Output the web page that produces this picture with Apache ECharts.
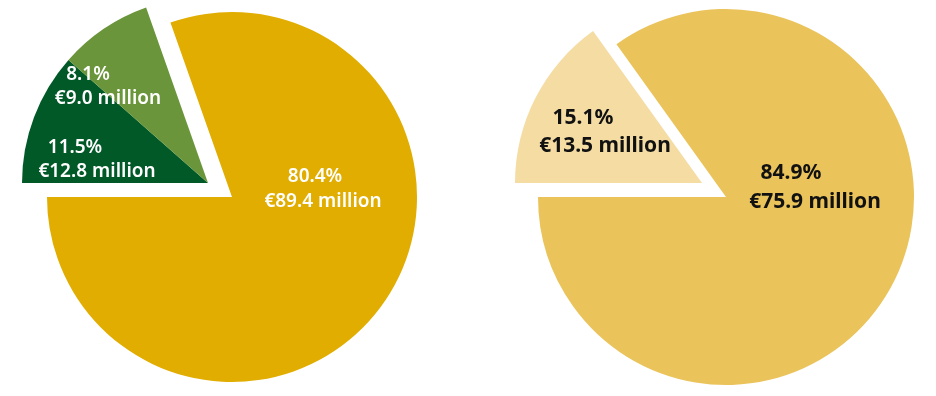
<!DOCTYPE html>
<html>
<head>
<meta charset="utf-8">
<script src="https://cdn.jsdelivr.net/npm/echarts@6/dist/echarts.min.js"></script>
<style>
html,body{margin:0;padding:0;background:#fff;}
#chart{width:936px;height:396px;}
</style>
</head>
<body>
<div id="chart"></div>
<script>
// ---- data ----
const leftShares = [11.5, 8.1, 80.4];
const leftMillions = [12.8, 9.0, 89.4];
const rightShares = [15.1, 84.9];
const rightMillions = [13.5, 75.9];

// ---- styles / layout ----
const leftColors = ['#005926', '#6A953A', '#E1AD00'];
const rightColors = ['#F4DCA3', '#EAC35B'];
const leftExploded = [true, true, false];
const rightExploded = [true, false];
const leftLabelOffsets = [[-111, -23.5], [-100, -96.5], [91, -7.5]];
const leftLineShift = [44, 40, 16];
const rightLabelOffsets = [[-97, -51], [89, -9.5]];
const rightLineShift = [44, 48];

const FONT = '"Noto Sans", "Open Sans", sans-serif';

function fmtLabel(share, mil) {
  return '{a|' + share.toFixed(1) + '%}\n{b|€' + mil.toFixed(1) + ' million}';
}

function buildData(shares, millions, colors, exploded, wantExploded, offsets, shifts, txtColor, fontSize, weight, lh) {
  return shares.map((v, i) => {
    const visible = exploded[i] === wantExploded;
    return {
      value: v,
      name: 'item' + i,
      itemStyle: { color: visible ? colors[i] : 'rgba(0,0,0,0)' },
      label: {
        show: visible,
        position: 'center',
        offset: offsets[i],
        formatter: fmtLabel(shares[i], millions[i]),
        align: 'center',
        rich: {
          a: { color: txtColor, fontFamily: FONT, fontSize: fontSize, fontWeight: weight, lineHeight: lh, padding: [0, shifts[i], 0, 0] },
          b: { color: txtColor, fontFamily: FONT, fontSize: fontSize, fontWeight: weight, lineHeight: lh }
        }
      }
    };
  });
}

function pieSeries(center, radius, data) {
  return {
    type: 'pie',
    center: center,
    radius: radius,
    startAngle: 180,
    clockwise: true,
    silent: true,
    animation: false,
    labelLine: { show: false },
    emphasis: { disabled: true },
    itemStyle: { borderWidth: 0 },
    data: data
  };
}

const chart = echarts.init(document.getElementById('chart'), null, { renderer: 'canvas' });
chart.setOption({
  backgroundColor: '#ffffff',
  animation: false,
  series: [
    pieSeries([232, 197], 185, buildData(leftShares, leftMillions, leftColors, leftExploded, false, leftLabelOffsets, leftLineShift, '#ffffff', 19, 600, 25)),
    pieSeries([208, 183], 186, buildData(leftShares, leftMillions, leftColors, leftExploded, true, leftLabelOffsets, leftLineShift, '#ffffff', 19, 600, 24)),
    pieSeries([726, 197], 188, buildData(rightShares, rightMillions, rightColors, rightExploded, false, rightLabelOffsets, rightLineShift, '#111111', 21, 'bold', 29)),
    pieSeries([702, 183], 187, buildData(rightShares, rightMillions, rightColors, rightExploded, true, rightLabelOffsets, rightLineShift, '#111111', 21, 'bold', 28))
  ]
});
</script>
</body>
</html>
